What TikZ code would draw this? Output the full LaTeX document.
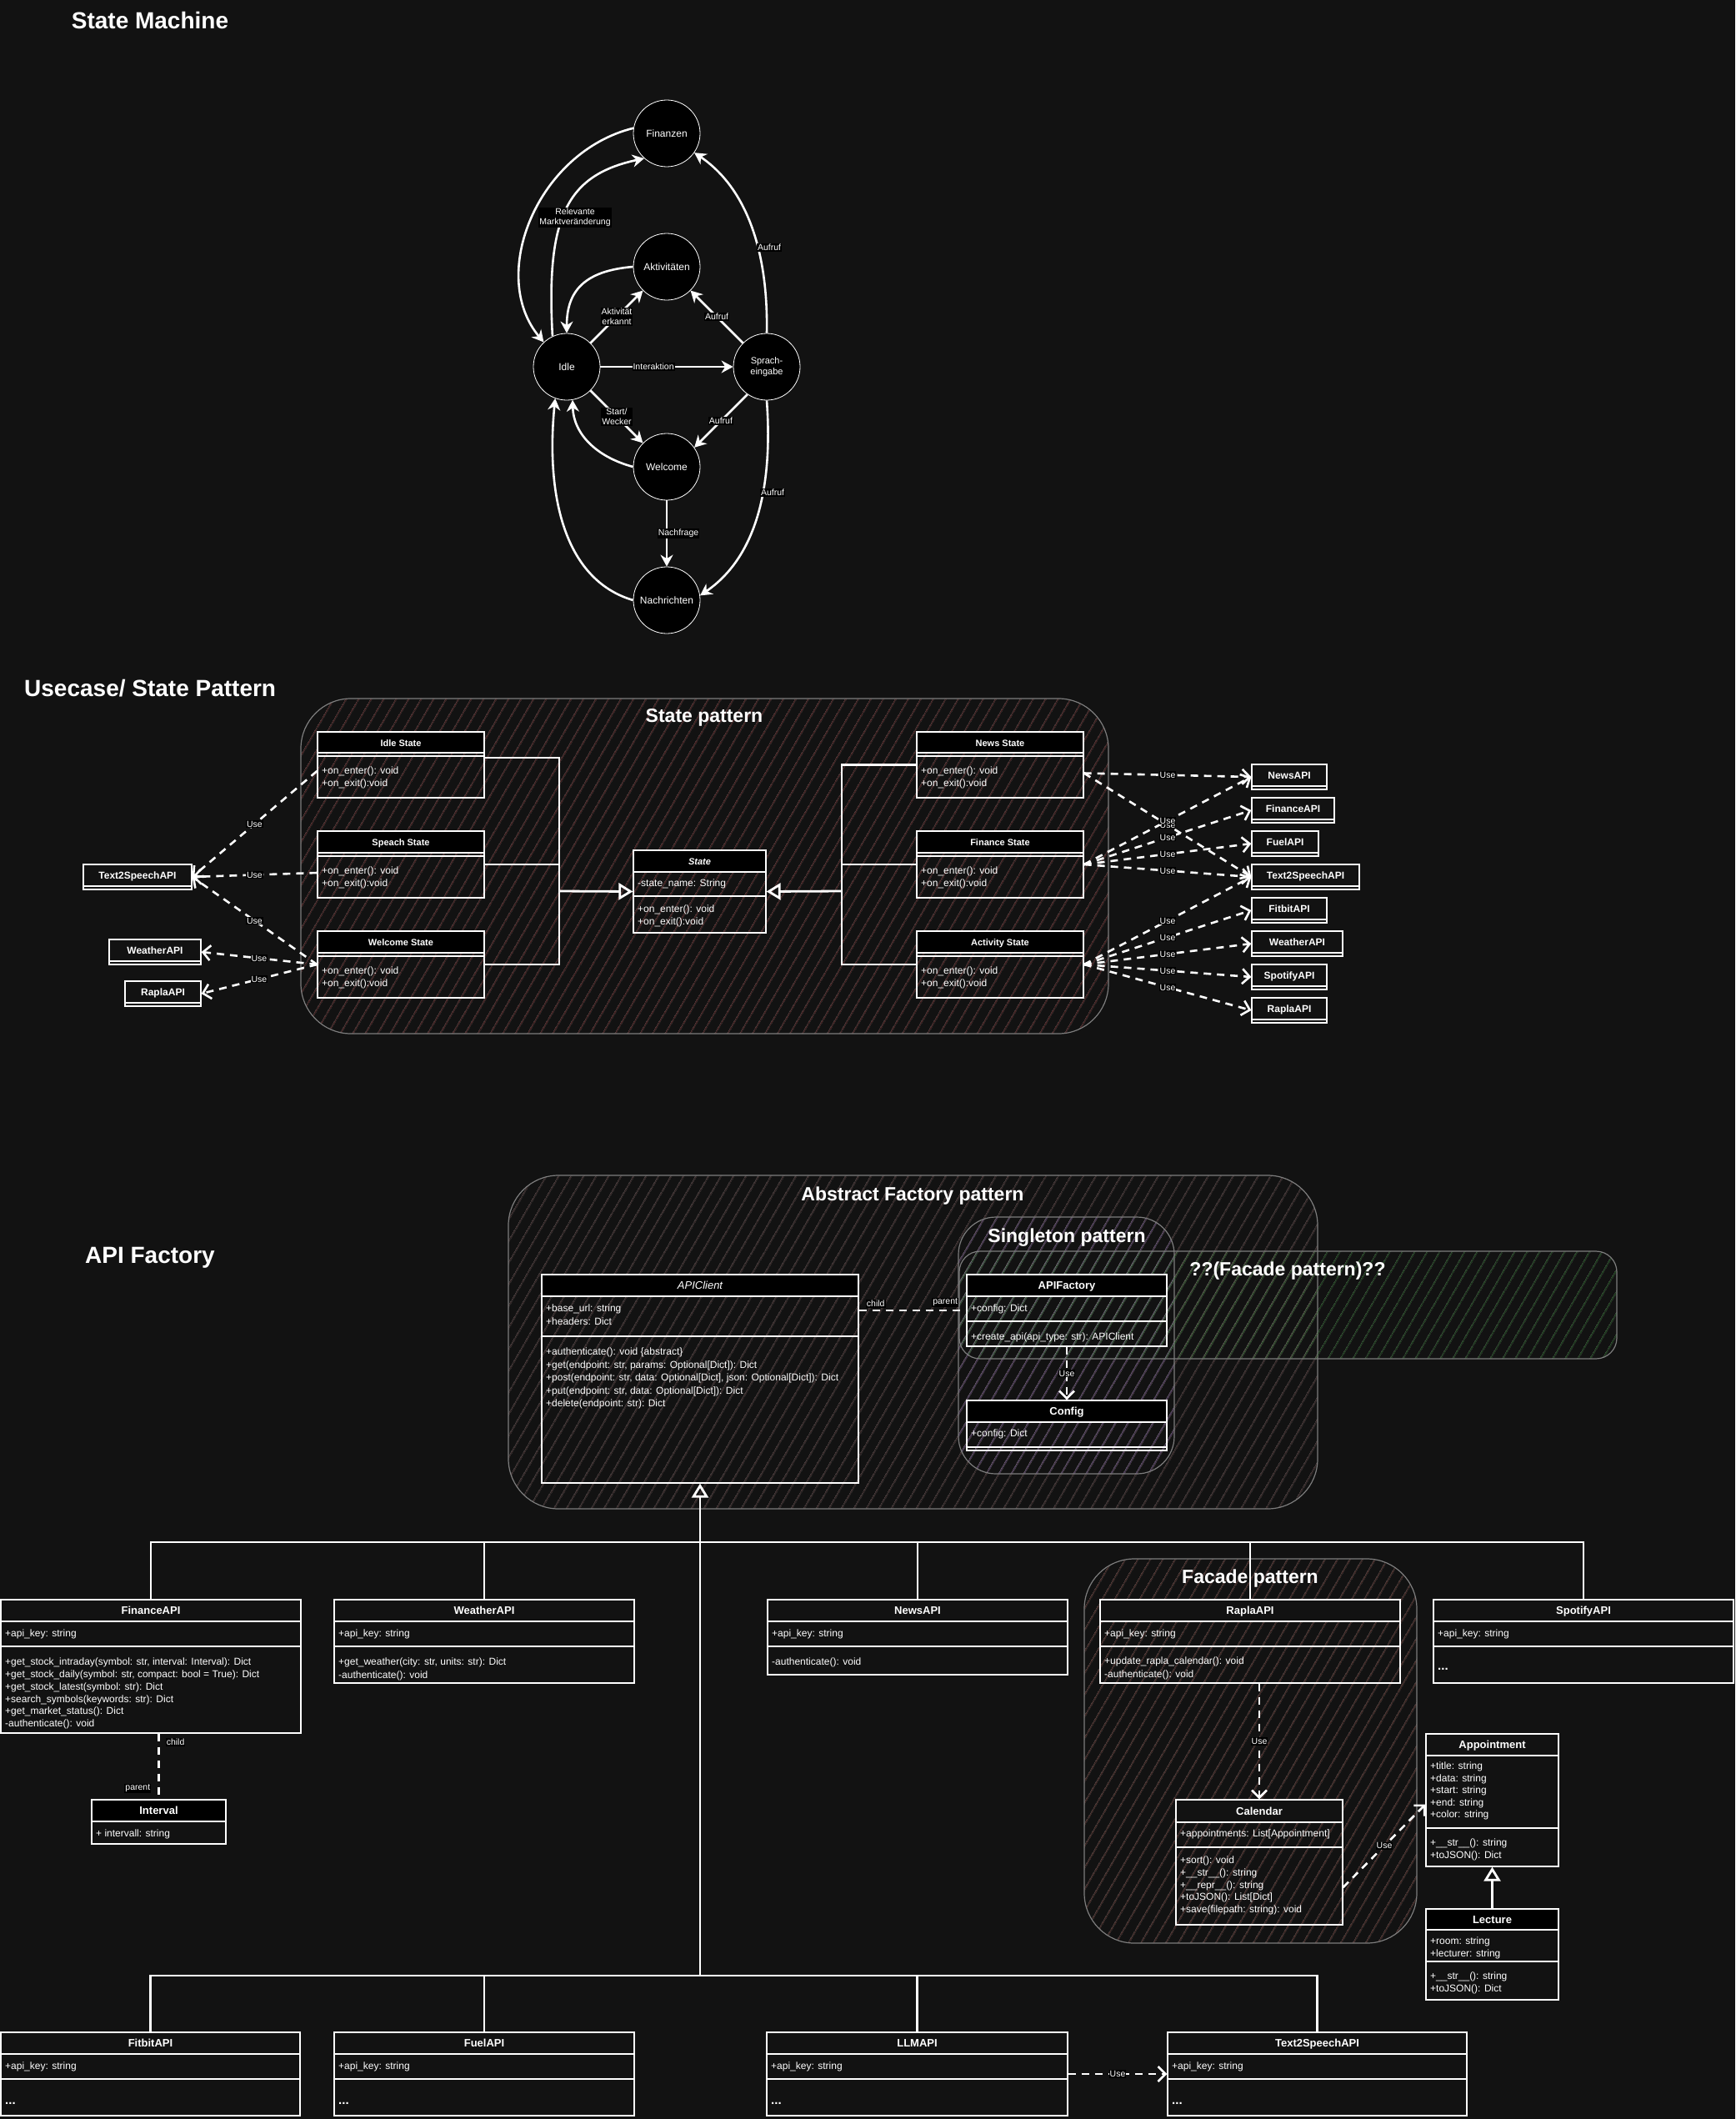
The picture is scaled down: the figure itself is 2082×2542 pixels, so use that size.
\documentclass[tikz,border=0pt]{standalone}
\usepackage{fontspec}
\setmainfont{Liberation Sans}
\usetikzlibrary{arrows.meta,patterns.meta,fit}
\definecolor{bgc}{RGB}{18,18,18}
\definecolor{cborder}{RGB}{125,125,125}
\definecolor{sphatch}{RGB}{112,48,48}
\definecolor{afhatch}{RGB}{88,62,62}
\definecolor{sghatch}{RGB}{86,64,118}
\definecolor{qfhatch}{RGB}{40,100,40}
\definecolor{fchatch}{RGB}{108,62,56}
\tikzset{
 container/.style={draw=cborder, line width=1.2pt, rounded corners=#1, inner sep=0pt},
 hatch/.style={pattern={Lines[angle=60,distance=13pt,line width=0.9pt]}, pattern color=#1},
 sectitle/.style={text=white, inner sep=0pt, text height=20pt, text depth=0pt, font=\fontsize{28}{32}\selectfont\bfseries},
 pattitle/.style={text=white, inner sep=0pt, text height=16.5pt, text depth=0pt, font=\fontsize{23}{26}\selectfont\bfseries},
 smnode/.style={circle, draw=white, line width=0.8pt, fill=black, minimum size=80pt, inner sep=0pt, text=white, align=center, font=\fontsize{12}{14}\selectfont},
 smedge/.style={draw=white, line width=2.6pt, -{Stealth[length=14pt,width=15pt]}},
 lbl/.style={fill=black, text=white, inner sep=1pt, align=center, font=\fontsize{10.5}{12}\selectfont},
 clsline/.style={draw=white, line width=1.3pt},
 clsbox/.style={draw=white, line width=1.3pt, inner sep=0pt},
 hdr/.style={text=white, inner sep=0pt, text height=9.5pt, text depth=0pt, font=\fontsize{13}{15}\selectfont\bfseries},
 body/.style={anchor=north west, inner sep=0pt, align=left, text=white, font=\fontsize{12}{14.7}\selectfont, execute at begin node={\rule{0pt}{9.5pt}}},
 dots/.style={body, font=\fontsize{15}{15}\selectfont\bfseries},
 conn/.style={draw=white, line width=2.8pt},
 inherit/.style={draw=white, line width=2.8pt, -{Triangle[open,length=17pt,width=20pt]}},
 useedge/.style={draw=white, line width=2.6pt, dash pattern=on 9pt off 7pt, -{Straight Barb[length=9pt,width=18pt]}},
 dline/.style={draw=white, line width=2.6pt, dash pattern=on 9pt off 7pt},
}
% name, x1, y1, x2, y2, header bottom, separator, header fill, title
\newcommand\umlclass[9]{%
  \fill[#8] (#2,#3) rectangle (#4,#6);
  \draw[clsline] (#2,#6) -- (#4,#6) (#2,#7) -- (#4,#7);
  \node[fit={(#2,#3) (#4,#5)}, clsbox] (#1) {};
  \node[hdr] (#1-h) at ({(#2+#4)/2},{(#3+#6)/2}) {#9};
}
% name, x1, y1, x2, y2, title
\newcommand\apibox[6]{%
  \fill[bgc] (#2,#3) rectangle (#4,#5);
  \node[fit={(#2,#3) (#4,#5)}, clsbox] (#1) {};
  \draw[clsline] (#2,#5-4) -- (#4,#5-4);
  \node[hdr, font=\fontsize{12}{14}\selectfont\bfseries] (#1-h) at ({(#2+#4)/2},{(#3+#5-4)/2}) {#6};
}
\begin{document}
\begin{tikzpicture}[x=1pt,y=-1pt]
\useasboundingbox (0,0) rectangle (2082,2542);
\fill[bgc] (0,0) rectangle (2082,2542);

% ---------- section titles
\node[sectitle] (t-sm) at (180,25) {State Machine};
\node[sectitle, anchor=west] (t-uc) at (29,825) {Usecase/ State Pattern};
\node[sectitle, anchor=west] (t-af) at (102,1505) {API Factory};

% ---------- state machine
\node[smnode] (fin) at (800,160) {Finanzen};
\node[smnode] (akt) at (800,320) {Aktivitäten};
\node[smnode] (idle) at (680,440) {Idle};
\node[smnode, font=\fontsize{11}{13}\selectfont] (spr) at (920,440) {Sprach-\\eingabe};
\node[smnode] (wel) at (800,560) {Welcome};
\node[smnode] (nach) at (800,720) {Nachrichten};

\draw[smedge] (fin.171) .. controls (645,182) and (585,330) .. (idle.133);
\draw[smedge] (idle.115) .. controls (655,260) and (680,210) .. (fin.228);
\draw[smedge] (akt.west) .. controls (700,325) and (680,350) .. (idle.north);
\draw[smedge] (idle.45) -- node[lbl]{Aktivität\\erkannt} (akt.-135);
\draw[smedge] (spr.135) -- node[lbl]{Aufruf} (akt.-45);
\draw[smedge] (idle.east) -- node[lbl,pos=0.4]{Interaktion} (spr.west);
\draw[smedge] (idle.-45) -- node[lbl]{Start/\\Wecker} (wel.135);
\draw[smedge] (wel.west) .. controls (715,548) and (688,520) .. (idle.-80);
\draw[smedge] (spr.-125) -- node[lbl]{Aufruf} (wel.35);
\draw[smedge] (spr.north) .. controls (922,300) and (895,225) .. (fin.-35);
\draw[smedge] (spr.south) .. controls (928,590) and (905,670) .. (nach.8);
\draw[smedge] (wel.south) -- node[lbl, xshift=14pt]{Nachfrage} (nach.north);
\draw[smedge] (nach.west) .. controls (675,695) and (655,590) .. (idle.-110);
\node[lbl] (l-fin) at (690,261) {Relevante\\Marktveränderung};
\node[lbl] (l-a1) at (923,297) {Aufruf};
\node[lbl] (l-a2) at (927,591) {Aufruf};

% ---------- state pattern
\node[container=60pt, hatch=sphatch, fit={(361,838) (1330,1240)}] (c-state) {};
\node[pattitle] (c-state-t) at (845,858) {State pattern};

\umlclass{idlestate}{381}{878}{581}{957}{903}{907}{black}{\fontsize{11}{13}\selectfont Idle State}
\umlclass{speachstate}{381}{997}{581}{1077}{1023}{1027}{black}{\fontsize{11}{13}\selectfont Speach State}
\umlclass{welcomestate}{381}{1117}{581}{1197}{1143}{1147}{black}{\fontsize{11}{13}\selectfont Welcome State}
\umlclass{newsstate}{1100}{878}{1300}{957}{903}{907}{black}{\fontsize{11}{13}\selectfont News State}
\umlclass{financestate}{1100}{997}{1300}{1077}{1023}{1027}{black}{\fontsize{11}{13}\selectfont Finance State}
\umlclass{activitystate}{1100}{1117}{1300}{1197}{1143}{1147}{black}{\fontsize{11}{13}\selectfont Activity State}
\umlclass{state}{760}{1020}{919}{1119}{1046}{1075}{black}{\fontsize{11}{13}\selectfont\itshape State}

\node[body, font=\fontsize{12}{15}\selectfont] (idlestate-m) at (386,925-5.2) {+on\_enter(): void\\+on\_exit():void};
\node[body, font=\fontsize{12}{15}\selectfont] (speachstate-m) at (386,1045-5.2) {+on\_enter(): void\\+on\_exit():void};
\node[body, font=\fontsize{12}{15}\selectfont] (welcomestate-m) at (386,1165-5.2) {+on\_enter(): void\\+on\_exit():void};
\node[body, font=\fontsize{12}{15}\selectfont] (newsstate-m) at (1105,925-5.2) {+on\_enter(): void\\+on\_exit():void};
\node[body, font=\fontsize{12}{15}\selectfont] (financestate-m) at (1105,1045-5.2) {+on\_enter(): void\\+on\_exit():void};
\node[body, font=\fontsize{12}{15}\selectfont] (activitystate-m) at (1105,1165-5.2) {+on\_enter(): void\\+on\_exit():void};
\node[body] (state-a) at (765,1059-5.2) {-state\_name: String};
\node[body, font=\fontsize{12}{15}\selectfont] (state-m) at (765,1091-5.2) {+on\_enter(): void\\+on\_exit():void};

\apibox{t2sL}{100}{1037}{230}{1067}{Text2SpeechAPI}
\apibox{weatherL}{131}{1127}{241}{1157}{WeatherAPI}
\apibox{raplaL}{150}{1177}{241}{1207}{RaplaAPI}
\apibox{newsR}{1502}{917}{1592}{947}{NewsAPI}
\apibox{financeR}{1502}{957}{1601}{987}{FinanceAPI}
\apibox{fuelR}{1502}{997}{1582}{1027}{FuelAPI}
\apibox{t2sR}{1502}{1037}{1631}{1067}{Text2SpeechAPI}
\apibox{fitbitR}{1502}{1077}{1592}{1107}{FitbitAPI}
\apibox{weatherR}{1502}{1117}{1611}{1147}{WeatherAPI}
\apibox{spotifyR}{1502}{1157}{1592}{1187}{SpotifyAPI}
\apibox{raplaR}{1502}{1197}{1592}{1227}{RaplaAPI}

% inheritance buses
\coordinate (lbus) at (671,1069);
\coordinate (ls1) at ([yshift=8.5pt]idlestate.east);
\draw[conn] (ls1) -- (ls1 -| lbus) -- (welcomestate.east -| lbus) -- (welcomestate.east);
\draw[conn] (speachstate.east) -- (speachstate.east -| lbus);
\draw[inherit] (lbus) -- (state.west);
\coordinate (rbus) at (1010,1069);
\draw[conn] (newsstate.west) -- (newsstate.west -| rbus) -- (activitystate.west -| rbus) -- (activitystate.west);
\draw[conn] (financestate.west) -- (financestate.west -| rbus);
\draw[inherit] (rbus) -- (state.east);

% use edges
\draw[useedge] ([yshift=-7.5pt]idlestate.west) -- node[lbl]{Use} (t2sL.east);
\draw[useedge] ([yshift=-10pt]speachstate.west) -- node[lbl]{Use} (t2sL.east);
\draw[useedge] (welcomestate.west) -- node[lbl]{Use} (t2sL.east);
\draw[useedge] (welcomestate.west) -- node[lbl]{Use} (weatherL.east);
\draw[useedge] (welcomestate.west) -- node[lbl]{Use} (raplaL.east);
\draw[useedge] ([yshift=-10pt]newsstate.east) -- node[lbl]{Use} (newsR.west);
\draw[useedge] ([yshift=-10pt]newsstate.east) -- node[lbl]{Use} (t2sR.west);
\draw[useedge] (financestate.east) -- node[lbl]{Use} (newsR.west);
\draw[useedge] (financestate.east) -- node[lbl]{Use} (financeR.west);
\draw[useedge] (financestate.east) -- node[lbl]{Use} (fuelR.west);
\draw[useedge] (financestate.east) -- node[lbl]{Use} (t2sR.west);
\draw[useedge] (activitystate.east) -- node[lbl]{Use} (t2sR.west);
\draw[useedge] (activitystate.east) -- node[lbl]{Use} (fitbitR.west);
\draw[useedge] (activitystate.east) -- node[lbl]{Use} (weatherR.west);
\draw[useedge] (activitystate.east) -- node[lbl]{Use} (spotifyR.west);
\draw[useedge] (activitystate.east) -- node[lbl]{Use} (raplaR.west);

% ---------- API factory containers
\node[container=60pt, hatch=afhatch, fit={(610,1410) (1581,1810)}] (c-af) {};
\node[pattitle] (c-af-t) at (1095,1432) {Abstract Factory pattern};
\node[container=45pt, hatch=sghatch, fit={(1150,1460) (1409,1768)}] (c-sg) {};
\node[pattitle] (c-sg-t) at (1280,1482) {Singleton pattern};
\node[container=25pt, hatch=qfhatch, fit={(1151,1501) (1940,1630)}] (c-qf) {};
\node[pattitle] (c-qf-t) at (1545,1522) {??(Facade pattern)??};
\node[container=60pt, hatch=fchatch, fit={(1301,1870) (1700,2331)}] (c-fc) {};
\node[pattitle] (c-fc-t) at (1500,1891) {Facade pattern};

% ---------- API classes
\umlclass{apiclient}{650}{1529}{1030}{1779}{1555}{1603}{black}{\mdseries\itshape APIClient}
\node[body, font=\fontsize{12}{15.5}\selectfont] (apiclient-a) at (655,1570-5.2) {+base\_url: string\\+headers: Dict};
\node[body, font=\fontsize{12}{15.5}\selectfont] (apiclient-m) at (655,1622-5.2) {+authenticate(): void \{abstract\}\\+get(endpoint: str, params: Optional[Dict]): Dict\\+post(endpoint: str, data: Optional[Dict], json: Optional[Dict]): Dict\\+put(endpoint: str, data: Optional[Dict]): Dict\\+delete(endpoint: str): Dict};

\umlclass{apifactory}{1160}{1529}{1400}{1615}{1555}{1585}{black}{APIFactory}
\node[body] (apifactory-a) at (1165,1569-5.2) {+config: Dict};
\node[body] (apifactory-m) at (1165,1603-5.2) {+create\_api(api\_type: str): APIClient};

\umlclass{config}{1160}{1680}{1400}{1740}{1706}{1736}{black}{Config}
\node[body] (config-a) at (1165,1719-5.2) {+config: Dict};

\umlclass{financeapi}{1}{1919}{361}{2079}{1945}{1975}{bgc}{FinanceAPI}
\node[body] (financeapi-a) at (6,1959-5.2) {+api\_key: string};
\node[body, font=\fontsize{12}{14.8}\selectfont] (financeapi-m) at (6,1994-5.2) {+get\_stock\_intraday(symbol: str, interval: Interval): Dict\\+get\_stock\_daily(symbol: str, compact: bool = True): Dict\\+get\_stock\_latest(symbol: str): Dict\\+search\_symbols(keywords: str): Dict\\+get\_market\_status(): Dict\\-authenticate(): void};

\umlclass{weatherapi}{401}{1919}{761}{2019}{1945}{1975}{bgc}{WeatherAPI}
\node[body] (weatherapi-a) at (406,1959-5.2) {+api\_key: string};
\node[body, font=\fontsize{12}{16}\selectfont] (weatherapi-m) at (406,1994-5.2) {+get\_weather(city: str, units: str): Dict\\-authenticate(): void};

\umlclass{newsapi}{921}{1919}{1281}{2009}{1945}{1975}{bgc}{NewsAPI}
\node[body] (newsapi-a) at (926,1959-5.2) {+api\_key: string};
\node[body] (newsapi-m) at (926,1993-5.2) {-authenticate(): void};

\umlclass{raplaapi}{1320}{1919}{1680}{2019}{1945}{1975}{bgc}{RaplaAPI}
\node[body] (raplaapi-a) at (1325,1959-5.2) {+api\_key: string};
\node[body, font=\fontsize{12}{16}\selectfont] (raplaapi-m) at (1325,1993-5.2) {+update\_rapla\_calendar(): void\\-authenticate(): void};

\umlclass{spotifyapi}{1720}{1919}{2080}{2019}{1945}{1975}{bgc}{SpotifyAPI}
\node[body] (spotifyapi-a) at (1725,1959-5.2) {+api\_key: string};
\node[dots] (spotifyapi-m) at (1725,2001-7) {...};

\umlclass{interval}{110}{2159}{271}{2212}{2185}{2185}{black}{Interval}
\node[body] (interval-a) at (115,2199-5.2) {+ intervall: string};

\umlclass{calendar}{1411}{2159}{1611}{2309}{2186}{2216}{bgc}{Calendar}
\node[body] (calendar-a) at (1416,2199-5.2) {+appointments: List[Appointment]};
\node[body] (calendar-m) at (1416,2232-5.2) {+sort(): void\\+\_\_str\_\_(): string\\+\_\_repr\_\_(): string\\+toJSON(): List[Dict]\\+save(filepath: string): void};

\umlclass{appointment}{1711}{2080}{1870}{2239}{2106}{2193}{bgc}{Appointment}
\node[body, font=\fontsize{12}{14.5}\selectfont] (appointment-a) at (1716,2119-5.2) {+title: string\\+data: string\\+start: string\\+end: string\\+color: string};
\node[body] (appointment-m) at (1716,2211-5.2) {+\_\_str\_\_(): string\\+toJSON(): Dict};

\umlclass{lecture}{1711}{2290}{1870}{2399}{2315}{2353}{black}{Lecture}
\node[body] (lecture-a) at (1716,2329-5.2) {+room: string\\+lecturer: string};
\node[body] (lecture-m) at (1716,2371-5.2) {+\_\_str\_\_(): string\\+toJSON(): Dict};

\umlclass{fitbitapi}{1}{2438}{360}{2538}{2464}{2494}{bgc}{FitbitAPI}
\node[body] (fitbitapi-a) at (6,2478-5.2) {+api\_key: string};
\node[dots] (fitbitapi-m) at (6,2522-7) {...};
\umlclass{fuelapi}{401}{2438}{761}{2538}{2464}{2494}{bgc}{FuelAPI}
\node[body] (fuelapi-a) at (406,2478-5.2) {+api\_key: string};
\node[dots] (fuelapi-m) at (406,2522-7) {...};
\umlclass{llmapi}{920}{2438}{1281}{2538}{2464}{2494}{bgc}{LLMAPI}
\node[body] (llmapi-a) at (925,2478-5.2) {+api\_key: string};
\node[dots] (llmapi-m) at (925,2522-7) {...};
\umlclass{t2sapi}{1401}{2438}{1760}{2538}{2464}{2494}{bgc}{Text2SpeechAPI}
\node[body] (t2sapi-a) at (1406,2478-5.2) {+api\_key: string};
\node[dots] (t2sapi-m) at (1406,2522-7) {...};

% ---------- API factory connectors
\coordinate (bus1) at (840,1850);
\coordinate (bus2) at (840,2370);
\draw[conn] (financeapi.north) -- (financeapi.north |- bus1) -- (spotifyapi.north |- bus1) -- (spotifyapi.north);
\foreach \n in {weatherapi,newsapi,raplaapi} \draw[conn] (\n.north) -- (\n.north |- bus1);
\draw[conn] (fitbitapi.north) -- (fitbitapi.north |- bus2) -- (t2sapi.north |- bus2) -- (t2sapi.north);
\foreach \n in {fuelapi,llmapi} \draw[conn] (\n.north) -- (\n.north |- bus2);
\draw[inherit] (bus2) -- (apiclient.south);

\draw[dline] (apiclient.east |- apifactory.west) -- node[pos=0, lbl, anchor=south west, xshift=7pt, yshift=2pt]{child} node[pos=1, lbl, anchor=south east, xshift=-8pt, yshift=3pt]{parent} (apifactory.west);
\draw[useedge] (apifactory.south) -- node[lbl]{Use} (config.north);
\draw[dline] (interval.north |- financeapi.south) -- node[pos=0, lbl, anchor=north west, xshift=7pt, yshift=-4pt]{child} node[pos=1, lbl, anchor=south east, xshift=-8pt, yshift=6pt]{parent} (interval.north);
\draw[useedge] (calendar.north |- raplaapi.south) -- node[lbl]{Use} (calendar.north);
\draw[useedge] ([yshift=-30pt]calendar.east) -- node[lbl]{Use} ([yshift=-5pt]appointment.west);
\draw[inherit] (lecture.north) -- (appointment.south);
\draw[useedge] (llmapi.east) -- node[lbl]{Use} (t2sapi.west);
\end{tikzpicture}
\end{document}
